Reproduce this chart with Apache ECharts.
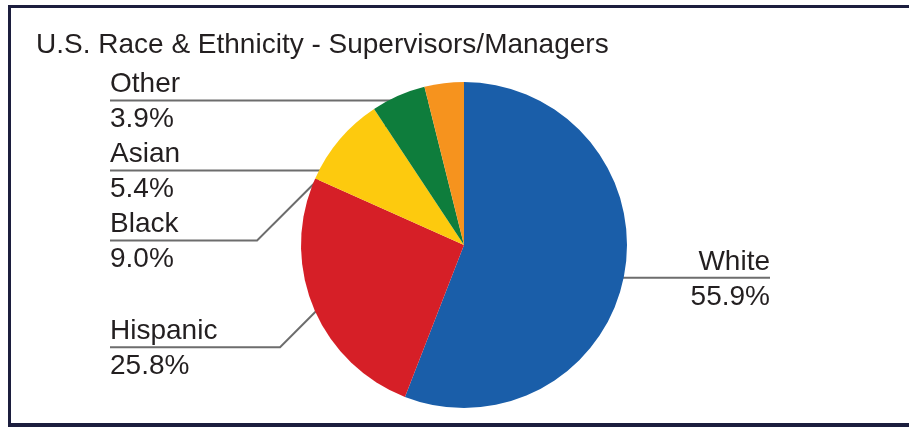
<!DOCTYPE html>
<html>
<head>
<meta charset="utf-8">
<script src="https://cdn.jsdelivr.net/npm/echarts@6/dist/echarts.min.js"></script>
<style>
  html, body { margin: 0; padding: 0; background: #fff; }
  #chart { width: 909px; height: 427px; }
</style>
</head>
<body>
<div id="chart"></div>
<script>
// slices, clockwise from 12 o'clock
const categories = ['White', 'Hispanic', 'Black', 'Asian', 'Other']
const shares = [55.9, 25.8, 9.0, 5.4, 3.9]
const sliceColors = ['#1a5ea9', '#d61f27', '#fdca0e', '#0e7d3c', '#f6931e']

const chart = echarts.init(document.getElementById('chart'))

// pie geometry (pixels)
const cx = 464
const cy = 245
const radius = 163
const boxTop = 67
const font = '"Liberation Sans", Arial, Helvetica, sans-serif'
const frameColor = '#1c1e3e'
// the Hispanic label sits lower in the original, so its first leader segment is longer
const leaderLength = { Hispanic: 106 }

chart.setOption({
  animation: false,
  title: {
    text: 'U.S. Race & Ethnicity - Supervisors/Managers',
    left: 36,
    top: 31,
    padding: 0,
    textStyle: { fontFamily: font, fontSize: 28, fontWeight: 'normal', color: '#231f20' }
  },
  graphic: [
    { type: 'rect', shape: { x: 8, y: 5, width: 901, height: 3 }, style: { fill: frameColor } },
    { type: 'rect', shape: { x: 8, y: 5, width: 3, height: 422 }, style: { fill: frameColor } },
    { type: 'rect', shape: { x: 8, y: 423, width: 901, height: 4 }, style: { fill: frameColor } }
  ],
  series: [{
    type: 'pie',
    left: 0,
    top: boxTop,
    width: 880,
    height: 427 - boxTop,
    center: [cx, cy - boxTop],
    radius: radius,
    startAngle: 90,
    clockwise: true,
    avoidLabelOverlap: true,
    data: categories.map((name, i) => {
      const item = { name: name, value: shares[i], itemStyle: { color: sliceColors[i] } }
      if (leaderLength[name]) item.labelLine = { length: leaderLength[name] }
      return item
    }),
    label: {
      show: true,
      alignTo: 'edge',
      edgeDistance: 110,
      minMargin: 7,
      width: 120,
      overflow: 'none',
      color: '#231f20',
      fontFamily: font,
      fontSize: 28,
      formatter: p => '{n|' + p.name + '}\n{v|' + p.value.toFixed(1) + '%}',
      rich: {
        n: { fontFamily: font, fontSize: 28, lineHeight: 38, color: '#231f20' },
        v: { fontFamily: font, fontSize: 28, lineHeight: 32, color: '#231f20' }
      }
    },
    labelLine: {
      show: true,
      length: 15,
      length2: 20,
      lineStyle: { color: '#6d6d6d', width: 2 }
    },
    labelLayout: function (params) {
      const pts = params.labelLinePoints
      if (!pts) return {}
      const isLeft = params.labelRect.x < cx
      const dir = isLeft ? -1 : 1
      // start the leader a little inside the slice
      const dx = pts[0][0] - cx
      const dy = pts[0][1] - cy
      const k = (radius - 13) / Math.sqrt(dx * dx + dy * dy)
      const p0 = [cx + dx * k, cy + dy * k]
      // 45 degree elbow to the label's line, then flat under the text
      const ly = pts[2][1]
      const p1 = [p0[0] + dir * Math.abs(ly - p0[1]), ly]
      const p2 = [isLeft ? params.labelRect.x : params.labelRect.x + params.labelRect.width, ly]
      return { labelLinePoints: [p0, p1, p2] }
    }
  }]
})
</script>
</body>
</html>
